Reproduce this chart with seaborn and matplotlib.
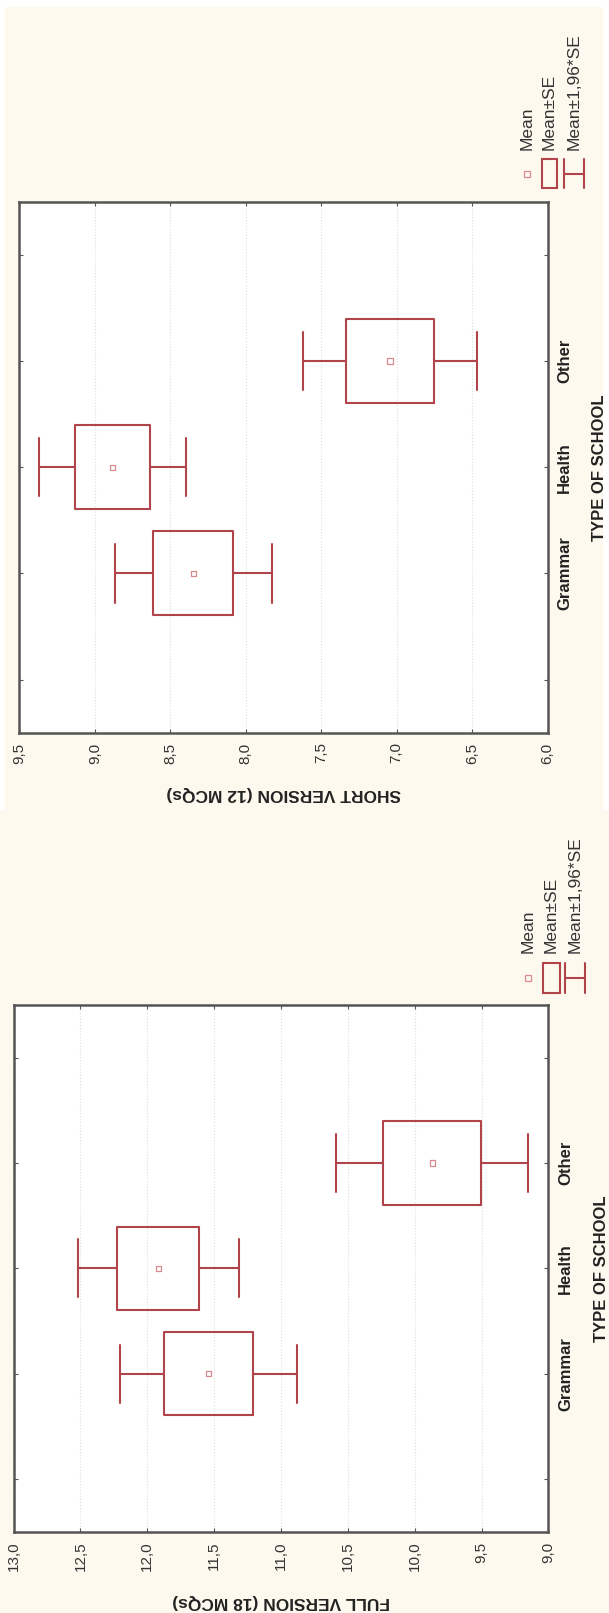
import numpy as np
import matplotlib
matplotlib.use("Agg")
import matplotlib.pyplot as plt
from matplotlib.patches import Rectangle
from matplotlib.lines import Line2D
import seaborn as sns

# ---------------- data ----------------
categories = ["Grammar", "Health", "Other"]
short_means = [8.347, 8.883, 7.044]
short_se = [0.265, 0.247, 0.294]
full_means = [11.542, 11.917, 9.869]
full_se = [0.336, 0.306, 0.366]
short_ticks = [9.5, 9.0, 8.5, 8.0, 7.5, 7.0, 6.5, 6.0]
full_ticks = [13.0, 12.5, 12.0, 11.5, 11.0, 10.5, 10.0, 9.5, 9.0]
short_label = "SHORT VERSION (12 MCQs)"
full_label = "FULL VERSION (18 MCQs)"
cat_label = "TYPE OF SCHOOL"
legend_labels = ["Mean", "Mean\u00b1SE", "Mean\u00b11,96*SE"]

# ---------------- style ----------------
sns.set_style("white")
plt.rcParams["font.family"] = ["Liberation Sans", "DejaVu Sans"]

W, H = 609, 1613
CREAM = "#FDF9EE"
BOXC = "#B0444A"
MEANC = "#D98A8E"
SPINE = "#555555"

fig = plt.figure(figsize=(W / 100, H / 100), dpi=100)
fig.patch.set_facecolor("white")


def fx(x):
    return x / W


def fy(y):
    return 1 - y / H


# cream backgrounds for the two (rotated) panels
fig.add_artist(Rectangle((fx(5), fy(810)), fx(598), (803) / H, transform=fig.transFigure,
                         facecolor=CREAM, edgecolor="none", zorder=-10))
fig.add_artist(Rectangle((0, 0), 1, (H - 810) / H, transform=fig.transFigure,
                         facecolor=CREAM, edgecolor="none", zorder=-10))


def panel(box, means, ses, ticks, vlabel, lab_y, cat_x, leg):
    l, t, r, b = box
    ax = fig.add_axes([fx(l), fy(b), (r - l) / W, (b - t) / H])
    ax.set_facecolor("white")
    pos = np.arange(len(categories))
    stats = []
    for m, s in zip(means, ses):
        stats.append(dict(med=m, q1=m - s, q3=m + s,
                          whislo=m - 1.96 * s, whishi=m + 1.96 * s, fliers=[]))
    kw = dict(positions=pos, widths=0.79, capwidths=0.55, showfliers=False,
              manage_ticks=False,
              boxprops=dict(color=BOXC, lw=1.5),
              whiskerprops=dict(color=BOXC, lw=1.5),
              capprops=dict(color=BOXC, lw=1.5),
              medianprops=dict(lw=0))
    try:
        ax.bxp(stats, orientation="horizontal", **kw)
    except TypeError:
        ax.bxp(stats, vert=False, **kw)
    sns.scatterplot(x=means, y=pos, marker="s", s=14, color="none",
                    edgecolor=MEANC, linewidth=0.9, ax=ax, zorder=5)

    ax.set_xlim(ticks[0], ticks[-1])
    ax.set_ylim(-1.5, len(categories) + 0.5)
    ax.set_xticks(ticks)
    ax.set_xticklabels([f"{v:.1f}".replace(".", ",") for v in ticks],
                       rotation=90, fontsize=11, color="#333333")
    ax.set_yticks(np.arange(-1, len(categories) + 1))
    ax.set_yticklabels([""] + categories + [""], rotation=90, fontsize=12,
                       fontweight="bold", color="#222222", va="center")
    ax.tick_params(axis="x", direction="in", length=3, color=SPINE, top=True,
                   bottom=True, pad=7)
    ax.tick_params(axis="y", direction="in", length=3, color=SPINE, left=True,
                   right=True, labelleft=False, labelright=True, pad=7)
    ax.grid(axis="x", color="#dedede", linestyle=":", lw=0.8)
    ax.grid(axis="y", visible=False)
    for sp in ax.spines.values():
        sp.set_visible(True)
        sp.set_color(SPINE)
        sp.set_linewidth(1.8)
    ax.set_xlabel("")
    ax.set_ylabel("")

    # rotated axis labels
    fig.text(fx((l + r) / 2), fy(lab_y), vlabel, rotation=180, ha="center",
             va="center", fontsize=12.5, fontweight="bold", color="#222222")
    fig.text(fx(cat_x), fy((t + b) / 2), cat_label, rotation=90, ha="center",
             va="center", fontsize=12, fontweight="bold", color="#222222")

    # legend (rotated)
    xm, xb0, xb1, xh0, xh1, y0, y1, ytext = leg
    ym = (y0 + y1) / 2
    fig.add_artist(Line2D([fx(xm)], [fy(ym)], marker="s", markersize=4,
                          markerfacecolor="none", markeredgecolor=MEANC,
                          markeredgewidth=0.9, transform=fig.transFigure))
    fig.add_artist(Rectangle((fx(xb0), fy(y1)), (xb1 - xb0) / W, (y1 - y0) / H,
                             transform=fig.transFigure, facecolor="none",
                             edgecolor=BOXC, lw=1.5))
    for xx in (xh0, xh1):
        fig.add_artist(Line2D([fx(xx), fx(xx)], [fy(y0), fy(y1)], color=BOXC,
                              lw=1.5, transform=fig.transFigure))
    fig.add_artist(Line2D([fx(xh0), fx(xh1)], [fy(ym), fy(ym)], color=BOXC,
                          lw=1.5, transform=fig.transFigure))
    for xx, txt in zip((xm, (xb0 + xb1) / 2, (xh0 + xh1) / 2), legend_labels):
        fig.text(fx(xx), fy(ytext), txt, rotation=90, ha="center", va="bottom",
                 fontsize=12.5, color="#333333")
    return ax


panel((19.4, 201.7, 547.6, 732.7), short_means, short_se, short_ticks,
      short_label, 793, 600,
      (526.7, 542, 557, 564, 584, 159, 188, 150))
panel((13.6, 1005, 548.4, 1531.7), full_means, full_se, full_ticks,
      full_label, 1602, 601,
      (528, 542.5, 560, 565, 585, 962.7, 992.7, 953))

fig.savefig("out.png", dpi=100, facecolor=fig.get_facecolor())
